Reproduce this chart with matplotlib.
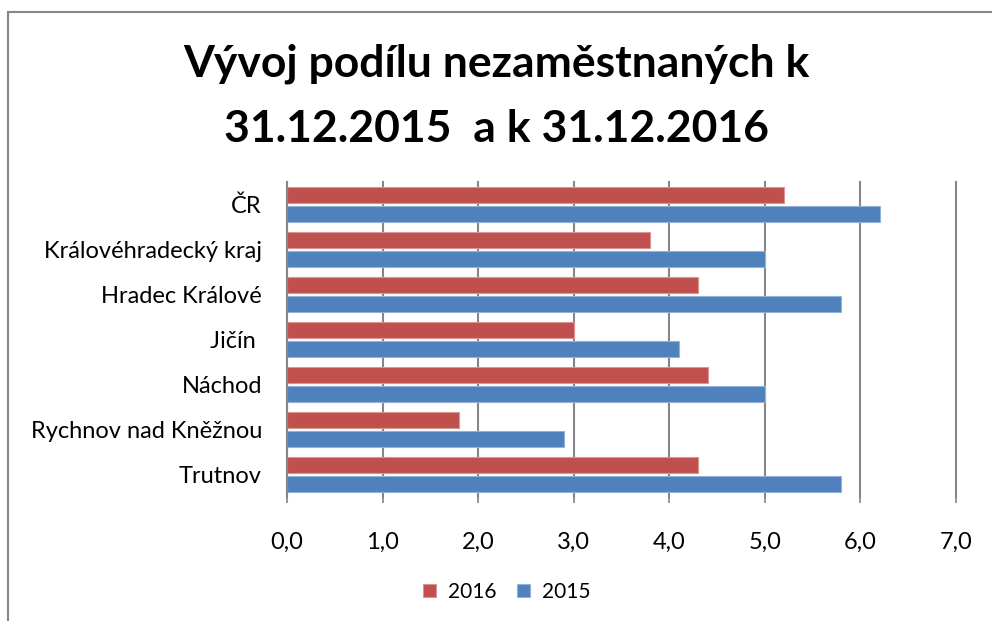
import numpy as np
import matplotlib
matplotlib.use('Agg')
import matplotlib.pyplot as plt
from matplotlib.lines import Line2D

plt.rcParams['font.family'] = ['Lato', 'DejaVu Sans']

categories = ['ČR', 'Královéhradecký kraj', 'Hradec Králové', 'Jičín ',
              'Náchod', 'Rychnov nad Kněžnou', 'Trutnov']
values_2016 = [5.2, 3.8, 4.3, 3.0, 4.4, 1.8, 4.3]
values_2015 = [6.2, 5.0, 5.8, 4.1, 5.0, 2.9, 5.8]
series_labels = ['2016', '2015']
xticks = [0, 1, 2, 3, 4, 5, 6, 7]

red = '#C0504D'
blue = '#4F81BD'
grid_col = '#868686'

fig = plt.figure(figsize=(9.92, 6.21), dpi=100)
ax = fig.add_axes([287 / 992, 1 - 497 / 621, (956 - 287) / 992, (497 - 182) / 621])

y = np.arange(len(categories))
h = 0.35
ax.barh(y - 0.21, values_2016, height=h, color=red, edgecolor='#D99694',
        linewidth=0.8, label=series_labels[0], zorder=3)
ax.barh(y + 0.21, values_2015, height=h, color=blue, edgecolor='#95B3D7',
        linewidth=0.8, label=series_labels[1], zorder=3)

ax.set_ylim(len(categories) - 0.5, -0.5)
ax.set_xlim(0, 7)
ax.set_yticks(y)
ax.set_yticklabels(categories, fontsize=17)
ax.set_xticks(xticks)
ax.set_xticklabels([('%.1f' % v).replace('.', ',') for v in xticks], fontsize=17)
ax.xaxis.grid(True, color=grid_col, linewidth=1.5, zorder=0)
for gl in ax.get_xgridlines():
    gl.set_clip_on(False)
ax.tick_params(axis='x', length=4, width=1.2, color=grid_col, pad=21)
ax.tick_params(axis='y', length=0, pad=18)

for s in ['top', 'right', 'bottom']:
    ax.spines[s].set_visible(False)
ax.spines['left'].set_color(grid_col)
ax.spines['left'].set_linewidth(1.5)
ax.spines['left'].set_zorder(4)

fig.text(0.5, 1 - 64 / 621, 'Vývoj podílu nezaměstnaných k', ha='center',
         va='center', fontsize=32, fontweight='bold')
fig.text(0.5, 1 - 129 / 621, '31.12.2015  a k 31.12.2016', ha='center',
         va='center', fontsize=32, fontweight='bold')

leg = fig.legend(loc='center', bbox_to_anchor=(507 / 992, 1 - 592 / 621),
                 ncol=2, frameon=False, fontsize=15, handlelength=0.6,
                 handleheight=0.6, handletextpad=0.6, columnspacing=1.0)

# chart frame (top and left edges visible)
fig.add_artist(Line2D([7.5 / 992, 1], [1 - 12 / 621, 1 - 12 / 621],
                      transform=fig.transFigure, color=grid_col, linewidth=1.5))
fig.add_artist(Line2D([7.5 / 992, 7.5 / 992], [1 - 12 / 621, 0],
                      transform=fig.transFigure, color=grid_col, linewidth=1.5))

fig.savefig('out.png', dpi=100)
